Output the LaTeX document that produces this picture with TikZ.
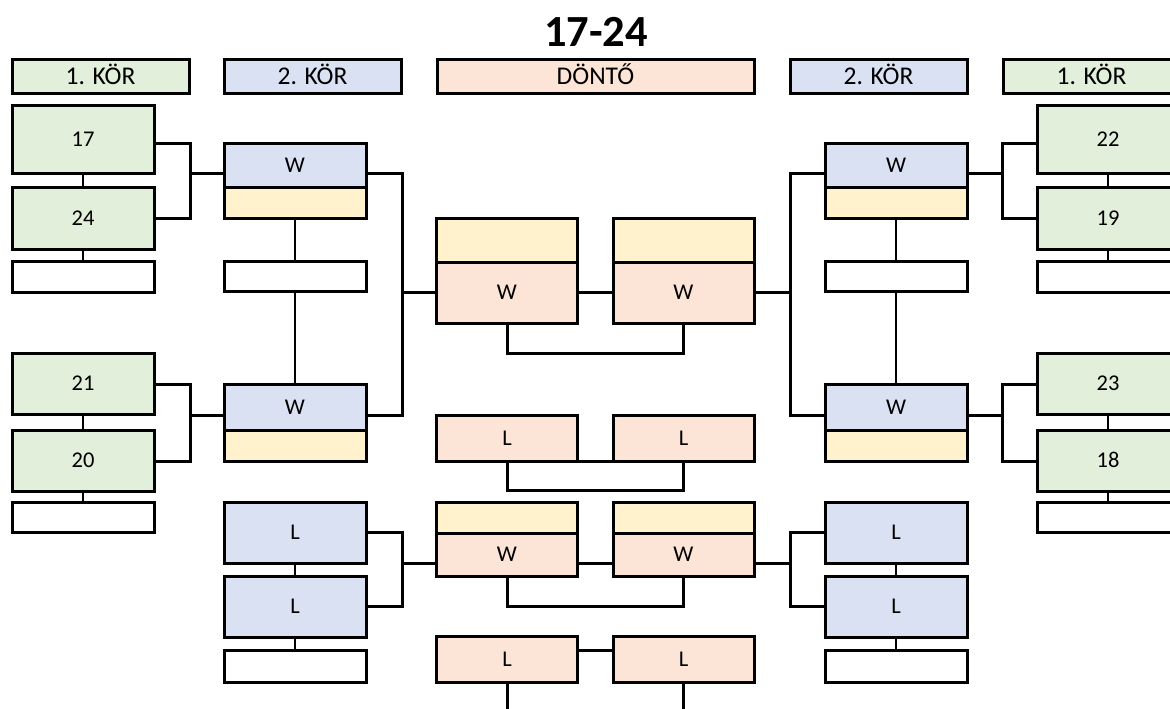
\documentclass[tikz,border=0pt]{standalone}
\usepackage{fontspec}
\setmainfont{Carlito}
\usepackage{xcolor}
\usepackage{tikz}
\usetikzlibrary{positioning}
\definecolor{korgreen}{HTML}{E2EFDA}
\definecolor{korblue}{HTML}{D9E1F2}
\definecolor{dontopink}{HTML}{FCE4D6}
\definecolor{dontoyellow}{HTML}{FFF2CC}
\tikzset{
  cell/.style={draw, line width=3pt, inner sep=0pt, outer sep=0pt, minimum width=142pt,
    text height=14pt, text depth=0pt, font=\fontsize{22.5}{22.5}\selectfont},
  head/.style={cell, minimum width=177pt, minimum height=33pt,
    text height=16.3pt, font=\fontsize{25.5}{25.5}\selectfont},
  fin/.style={cell, minimum width=141pt},
  link/.style={line width=3pt},
  tie/.style={line width=1.8pt}
}

\begin{document}
\begin{tikzpicture}[x=1pt,y=-1pt]
\useasboundingbox (0,0) rectangle (1170,709);
\clip (0,0) rectangle (1170,709);

\node[inner sep=0pt, font=\bfseries\fontsize{44.5}{44.5}\selectfont] (title) at (596,31.5) {17-24};

\node[head, fill=korgreen] (hL1) at (100.5,76.5) {1. KÖR};
\node[head, fill=korblue] (hL2) at (312.5,76.5) {2. KÖR};
\node[head, fill=dontopink, minimum width=317pt] (hD) at (595.5,76.5) {DÖNTŐ};
\node[head, fill=korblue] (hR2) at (878.5,76.5) {2. KÖR};
\node[head, fill=korgreen] (hR1) at (1091.5,76.5) {1. KÖR};

\node[cell, fill=korgreen, minimum height=68pt] (g17) at (83,139) {17};
\node[cell, fill=korgreen, minimum height=62pt] (g24) at (83,218) {24};
\node[cell, minimum height=31pt] (e17) at (83,276.5) {};
\node[cell, fill=korgreen, minimum height=61pt] (g21) at (83,383.5) {21};
\node[cell, fill=korgreen, minimum height=61pt] (g20) at (83,460.5) {20};
\node[cell, minimum height=30pt] (e21) at (83,517) {};

\node[cell, fill=korgreen, minimum height=68pt] (g22) at (1108,139) {22};
\node[cell, fill=korgreen, minimum height=62pt] (g19) at (1108,218) {19};
\node[cell, minimum height=31pt] (e22) at (1108,276.5) {};
\node[cell, fill=korgreen, minimum height=61pt] (g23) at (1108,383.5) {23};
\node[cell, fill=korgreen, minimum height=61pt] (g18) at (1108,460.5) {18};
\node[cell, minimum height=30pt] (e23) at (1108,517) {};

\node[cell, fill=korblue, minimum height=44pt] (wL1) at (295,165) {W};
\node[cell, fill=dontoyellow, minimum height=31pt, below=0pt of wL1] (yL1) {};
\node[cell, minimum height=30pt] (eL1) at (295,276) {};
\node[cell, fill=korblue, minimum height=46pt] (wL2) at (295,407) {W};
\node[cell, fill=dontoyellow, minimum height=31pt, below=0pt of wL2] (yL2) {};
\node[cell, fill=korblue, minimum height=61pt] (lL1) at (295,532.5) {L};
\node[cell, fill=korblue, minimum height=61pt] (lL2) at (295,606.5) {L};
\node[cell, minimum height=32pt] (eL2) at (295,666) {};

\node[cell, fill=korblue, minimum height=44pt] (wR1) at (896,165) {W};
\node[cell, fill=dontoyellow, minimum height=31pt, below=0pt of wR1] (yR1) {};
\node[cell, minimum height=30pt] (eR1) at (896,276) {};
\node[cell, fill=korblue, minimum height=46pt] (wR2) at (896,407) {W};
\node[cell, fill=dontoyellow, minimum height=31pt, below=0pt of wR2] (yR2) {};
\node[cell, fill=korblue, minimum height=61pt] (lR1) at (896,532.5) {L};
\node[cell, fill=korblue, minimum height=61pt] (lR2) at (896,606.5) {L};
\node[cell, minimum height=32pt] (eR2) at (896,666) {};

\node[fin, fill=dontoyellow, minimum height=44pt] (fy1) at (507,240) {};
\node[fin, fill=dontopink, minimum height=61pt, below=0pt of fy1] (fw1) {W};
\node[fin, fill=dontoyellow, minimum height=44pt] (fy2) at (683.5,240) {};
\node[fin, fill=dontopink, minimum height=61pt, below=0pt of fy2] (fw2) {W};
\node[fin, fill=dontopink, minimum height=46pt] (fl1) at (507,438) {L};
\node[fin, fill=dontopink, minimum height=46pt] (fl2) at (683.5,438) {L};
\node[fin, fill=dontoyellow, minimum height=31pt] (sy1) at (507,517.5) {};
\node[fin, fill=dontopink, minimum height=43pt, below=0pt of sy1] (sw1) {W};
\node[fin, fill=dontoyellow, minimum height=31pt] (sy2) at (683.5,517.5) {};
\node[fin, fill=dontopink, minimum height=43pt, below=0pt of sy2] (sw2) {W};
\node[fin, fill=dontopink, minimum height=46pt] (bl1) at (507,659) {L};
\node[fin, fill=dontopink, minimum height=46pt] (bl2) at (683.5,659) {L};

\coordinate (jA) at (190,173);
\coordinate (jB) at (190,415);
\coordinate (jC) at (402,292);
\coordinate (jD) at (402,563);
\coordinate (kA) at (1002,173);
\coordinate (kB) at (1002,415);
\coordinate (kC) at (790,292);
\coordinate (kD) at (790,563);

\draw[link] (g17.east |- wL1.north) -| (jA) |- (g24.east);
\draw[link] (jA) -- (jA -| wL1.west);
\draw[link] (g21.east |- wL2.north) -| (jB) |- (g20.east |- yL2.south);
\draw[link] (jB) -- (jB -| wL2.west);
\draw[link] (wL1.east |- jA) -| (jC) |- (wL2.east |- jB);
\draw[link] (jC) -- (jC -| fw1.west);
\draw[link] (lL1.east) -| (jD) |- (lL2.east);
\draw[link] (jD) -- (jD -| sw1.west);

\draw[link] (g22.west |- wR1.north) -| (kA) |- (g19.west);
\draw[link] (kA) -- (kA -| wR1.east);
\draw[link] (g23.west |- wR2.north) -| (kB) |- (g18.west |- yR2.south);
\draw[link] (kB) -- (kB -| wR2.east);
\draw[link] (wR1.west |- kA) -| (kC) |- (wR2.west |- kB);
\draw[link] (kC) -- (kC -| fw2.east);
\draw[link] (lR1.west) -| (kD) |- (lR2.west);
\draw[link] (kD) -- (kD -| sw2.east);

\draw[link] (fw1.east) -- (fw2.west);
\draw[link] (fw1.south) -- ++(0,30) -| (fw2.south);
\draw[link] (fl1.south east) -- (fl2.south west);
\draw[link] (fl1.south) -- ++(0,29) -| (fl2.south);
\draw[link] (sw1.east |- jD) -- (sw2.west |- kD);
\draw[link] (sw1.south) -- ++(0,30) -| (sw2.south);
\draw[link] ([yshift=-14pt]bl1.north east) -- ([yshift=-14pt]bl2.north west);
\draw[link] (bl1.south) -- ++(0,40);
\draw[link] (bl2.south) -- ++(0,40);

\draw[tie] (g17.south) -- (g24.north);
\draw[tie] (g24.south) -- (e17.north);
\draw[tie] (g21.south) -- (g20.north);
\draw[tie] (g20.south) -- (e21.north);
\draw[tie] (g22.south) -- (g19.north);
\draw[tie] (g19.south) -- (e22.north);
\draw[tie] (g23.south) -- (g18.north);
\draw[tie] (g18.south) -- (e23.north);
\draw[tie] (yL1.south) -- (eL1.north);
\draw[tie] (eL1.south) -- (wL2.north);
\draw[tie] (lL1.south) -- (lL2.north);
\draw[tie] (lL2.south) -- (eL2.north);
\draw[tie] (yR1.south) -- (eR1.north);
\draw[tie] (eR1.south) -- (wR2.north);
\draw[tie] (lR1.south) -- (lR2.north);
\draw[tie] (lR2.south) -- (eR2.north);
\end{tikzpicture}
\end{document}
